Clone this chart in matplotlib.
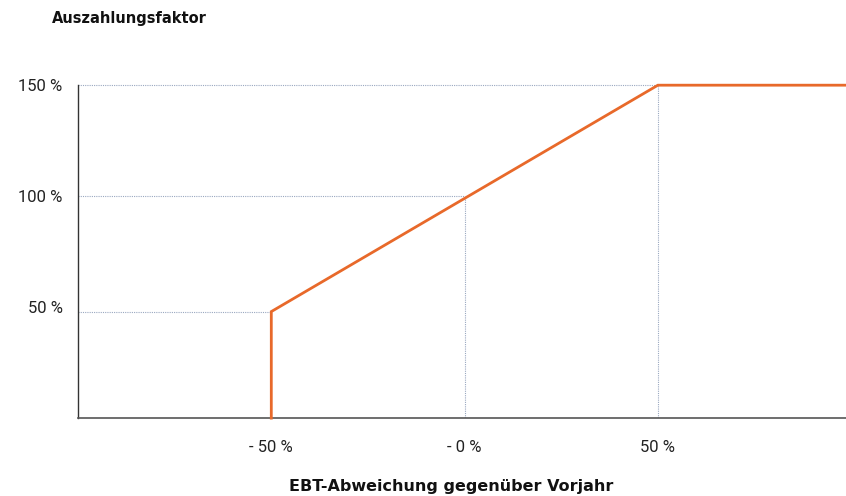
import matplotlib
matplotlib.use("Agg")
import matplotlib.pyplot as plt

# data
x_vals = [-50, -50, 50, 100]
y_vals = [0, 48, 150, 150]
x_ticks = [-50, 0, 50]
x_labels = ["- 50 %", "- 0 %", "50 %"]
y_ticks = [50, 100, 150]
y_labels = ["50 %", "100 %", "150 %"]
# guides: (x, y) corner points reached by dotted helper lines
guide_x = [-50, 0, 50]
guide_y = [48, 100, 150]

plt.rcParams["font.family"] = ["Roboto", "DejaVu Sans"]

fig = plt.figure(figsize=(8.46, 4.96), dpi=100)
ax = fig.add_axes([0.0922, 0.157, 0.908, 0.716])
ax.set_xlim(-100, 98.7)
ax.set_ylim(0, 160)

guide_col = "#9aa8c0"
for gx, gy in zip(guide_x, guide_y):
    ax.plot([-100, gx], [gy, gy], color=guide_col, lw=0.8, ls=(0, (1, 1)), zorder=1)
    if gx > -50:
        ax.plot([gx, gx], [0, gy], color=guide_col, lw=0.8, ls=(0, (1, 1)), zorder=1)

ax.plot(x_vals, y_vals, color="#e8692a", lw=2, solid_joinstyle="miter", zorder=3, clip_on=False)

for s in ["top", "right"]:
    ax.spines[s].set_visible(False)
ax.spines["left"].set_bounds(0, 150)
ax.spines["left"].set_color("#333333")
ax.spines["bottom"].set_color("#555555")
ax.spines["left"].set_linewidth(1.0)
ax.spines["bottom"].set_linewidth(1.2)

ax.set_xticks(x_ticks)
ax.set_xticklabels(x_labels)
ax.set_yticks(y_ticks)
ax.set_yticklabels(y_labels)
ax.tick_params(axis="both", length=0, labelsize=12, labelcolor="#222222")
ax.tick_params(axis="y", pad=11)
ax.tick_params(axis="x", pad=16)

ax.set_xlabel("EBT-Abweichung gegenüber Vorjahr", fontsize=11.5, fontweight="bold",
              family="DejaVu Sans", color="#111111")
ax.xaxis.set_label_coords((451 - 78) / 768, -(491 - 418) / 355)
ax.xaxis.label.set_va("baseline")
fig.text(52/846, 1 - 19/496, "Auszahlungsfaktor", fontsize=10.5, fontweight="bold",
         family="DejaVu Sans", va="center", ha="left", color="#111111")

fig.savefig("out.png", dpi=100)
